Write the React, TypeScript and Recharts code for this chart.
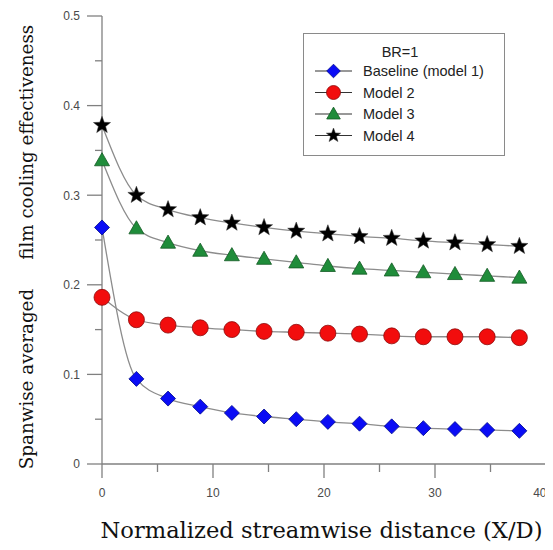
import { LineChart, Line, XAxis, YAxis, Legend } from "recharts";

// X/D positions shared by all four series
const distance = [0, 3.1, 5.95, 8.85, 11.7, 14.6, 17.5, 20.35, 23.2, 26.1, 28.95, 31.8, 34.7, 37.6];

const baseline = [0.264, 0.095, 0.073, 0.064, 0.057, 0.053, 0.05, 0.047, 0.045, 0.042, 0.04, 0.039, 0.038, 0.037];
const model2 = [0.186, 0.161, 0.155, 0.152, 0.15, 0.148, 0.147, 0.146, 0.145, 0.143, 0.142, 0.142, 0.142, 0.141];
const model3 = [0.339, 0.263, 0.247, 0.238, 0.233, 0.229, 0.225, 0.221, 0.218, 0.216, 0.214, 0.212, 0.21, 0.208];
const model4 = [0.378, 0.3, 0.284, 0.275, 0.269, 0.264, 0.26, 0.257, 0.254, 0.252, 0.249, 0.247, 0.245, 0.243];

const xTicks = [0, 5, 10, 15, 20, 25, 30, 35, 40];
const xLabelled = [0, 10, 20, 30, 40];
const yTicks = [0, 0.05, 0.1, 0.15, 0.2, 0.25, 0.3, 0.35, 0.4, 0.45, 0.5];
const yLabelled = [0, 0.1, 0.2, 0.3, 0.4, 0.5];

const legendTitle = "BR=1";
const seriesNames = ["Baseline (model 1)", "Model 2", "Model 3", "Model 4"];

const data = distance.map((x, i) => ({
  x,
  baseline: baseline[i],
  model2: model2[i],
  model3: model3[i],
  model4: model4[i],
}));

const AXIS = "#808080";
const CURVE = "#8c8c8c";
const TICK_TEXT = "#4a4a4a";
const SANS = "'Liberation Sans', Arial, sans-serif";
const SERIF = "'DejaVu Serif', serif";

function Diamond({ cx, cy, r = 7.5 }: any) {
  return (
    <path
      d={`M${cx},${cy - r}L${cx + r},${cy}L${cx},${cy + r}L${cx - r},${cy}Z`}
      fill="#0a0cf5"
      stroke="#000a8c"
      strokeWidth={0.8}
    />
  );
}

function RedDot({ cx, cy, r = 8 }: any) {
  return <circle cx={cx} cy={cy} r={r} fill="#f20d0d" stroke="#8c0a0a" strokeWidth={0.8} />;
}

function Triangle({ cx, cy, r = 7.5 }: any) {
  const h = r * 1.75;
  return (
    <path
      d={`M${cx},${cy - h * 0.58}L${cx + r},${cy + h * 0.42}L${cx - r},${cy + h * 0.42}Z`}
      fill="#1f8c3a"
      stroke="#145a24"
      strokeWidth={0.8}
    />
  );
}

function Star({ cx, cy, r = 9 }: any) {
  const pts: string[] = [];
  for (let k = 0; k < 10; k++) {
    const a = (-90 + k * 36) * (Math.PI / 180);
    const rr = k % 2 === 0 ? r : r * 0.42;
    pts.push(`${cx + rr * Math.cos(a)},${cy + rr * Math.sin(a)}`);
  }
  return <polygon points={pts.join(" ")} fill="#000" stroke="#333" strokeWidth={0.5} />;
}

const markers = [Diamond, RedDot, Triangle, Star];
const keys = ["baseline", "model2", "model3", "model4"];

const YTick = ({ x, y, payload }: any) => {
  const v = payload.value;
  const major = yLabelled.some((t) => Math.abs(t - v) < 1e-6);
  return (
    <g>
      <line x1={x - (major ? 15 : 7)} x2={x} y1={y} y2={y} stroke={AXIS} strokeWidth={1.3} />
      {major && (
        <text x={x - 22} y={y} dy="0.36em" textAnchor="end" fontSize={12} fontFamily={SANS} fill={TICK_TEXT}>
          {String(Number(v.toFixed(2)))}
        </text>
      )}
    </g>
  );
};

const XTick = ({ x, y, payload }: any) => {
  const v = payload.value;
  const major = xLabelled.includes(v);
  // the last label would run past the visible edge, so it is right-aligned to its tick
  const last = v === xTicks[xTicks.length - 1];
  return (
    <g>
      <line x1={x} x2={x} y1={y} y2={y + (major ? 14 : 8)} stroke={AXIS} strokeWidth={1.3} />
      {major && (
        <text
          x={last ? x + 0.5 : x}
          y={y + 33}
          textAnchor={last ? "end" : "middle"}
          fontSize={12}
          fontFamily={SANS}
          fill={TICK_TEXT}
        >
          {v}
        </text>
      )}
    </g>
  );
};

const renderXTitle = (props: any) => {
  const { x, width } = props.viewBox;
  return (
    <text x={x + width / 2 - 2.5} y={538} textAnchor="middle" fontSize={22.6} fontFamily={SERIF} fill="#111">
      Normalized streamwise distance (X/D)
    </text>
  );
};

const renderYTitle = () => {
  const cx = 33;
  const cy = 247;
  return (
    <text
      x={cx}
      y={cy}
      transform={`rotate(-90 ${cx} ${cy})`}
      textAnchor="middle"
      fontSize={18.3}
      fontFamily={SERIF}
      fill="#111"
    >
      {"Spanwise averaged\u00A0\u00A0\u00A0\u00A0 film cooling effectiveness"}
    </text>
  );
};

const LegendBox = () => (
  <svg width={203} height={124} style={{ display: "block" }}>
    <rect x={0.5} y={0.5} width={201} height={122} fill="#fff" stroke="#8a8a8a" strokeWidth={1} />
    <text x={97} y={19} dy="0.36em" textAnchor="middle" fontSize={14.5} fontFamily={SANS} fill="#222">
      {legendTitle}
    </text>
    {seriesNames.map((name, i) => {
      const y = 38 + i * 21.5;
      const M = markers[i];
      return (
        <g key={name}>
          <line x1={12} x2={49} y1={y} y2={y} stroke="#333" strokeWidth={1.2} />
          <M cx={30.5} cy={y} r={i === 1 ? 7 : i === 3 ? 7.5 : 6.8} />
          <text x={60} y={y} dy="0.36em" fontSize={14.5} fontFamily={SANS} fill="#222">
            {name}
          </text>
        </g>
      );
    })}
  </svg>
);

export default function App() {
  return (
    <div style={{ width: 553, height: 550, margin: -8 }}>
      <LineChart width={553} height={550} data={data} margin={{ top: 16, right: 7, left: 0, bottom: 26 }}>
        <XAxis
          dataKey="x"
          type="number"
          domain={[0, 40]}
          ticks={xTicks}
          interval={0}
          height={60}
          tickSize={0}
          tickMargin={0}
          tickLine={false}
          tick={<XTick />}
          axisLine={{ stroke: AXIS, strokeWidth: 1.3 }}
          label={renderXTitle}
        />
        <YAxis
          type="number"
          domain={[0, 0.5]}
          ticks={yTicks}
          interval={0}
          width={102}
          tickSize={0}
          tickMargin={0}
          tickLine={false}
          tick={<YTick />}
          axisLine={{ stroke: AXIS, strokeWidth: 1.3 }}
          label={renderYTitle}
        />
        <Legend
          layout="vertical"
          align="center"
          verticalAlign="middle"
          wrapperStyle={{ left: 303, top: 33, width: 203, height: 124 }}
          content={() => <LegendBox />}
        />
        {keys.map((k, i) => {
          const M = markers[i];
          return (
            <Line
              key={k}
              dataKey={k}
              name={seriesNames[i]}
              type="monotone"
              stroke={CURVE}
              strokeWidth={1.3}
              dot={(p: any) => <M key={`${k}-${p.index}`} cx={p.cx} cy={p.cy} />}
              activeDot={false}
              isAnimationActive={false}
            />
          );
        })}
      </LineChart>
    </div>
  );
}
